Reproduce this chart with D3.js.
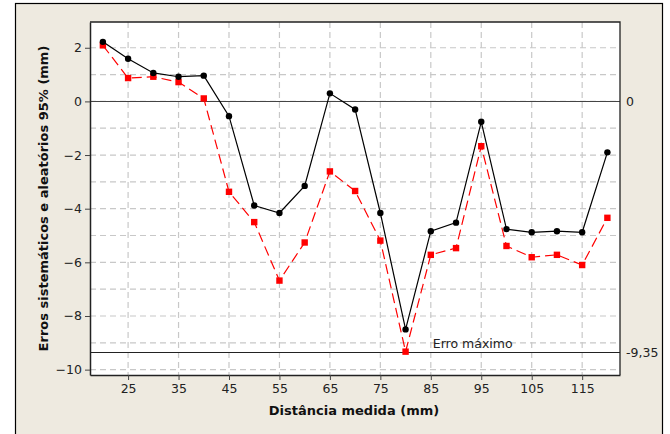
<!DOCTYPE html>
<html>
<head>
<meta charset="utf-8">
<script src="https://cdn.jsdelivr.net/npm/d3@7"></script>
<style>
  body { margin: 0; background: #fff; }
  text { font-family: "DejaVu Sans", Verdana, sans-serif; }
</style>
</head>
<body>
<script>
// distance (mm)
let distances = [20, 25, 30, 35, 40, 45, 50, 55, 60, 65, 70, 75, 80, 85, 90, 95, 100, 105, 110, 115, 120]
// black, solid, circles
let erroA = [2.22, 1.59, 1.06, 0.92, 0.96, -0.55, -3.88, -4.16, -3.15, 0.30, -0.30, -4.16, -8.50, -4.84, -4.52, -0.76, -4.76, -4.88, -4.84, -4.88, -1.90]
// red, dashed, squares
let erroB = [2.09, 0.87, 0.92, 0.72, 0.11, -3.37, -4.50, -6.68, -5.26, -2.61, -3.34, -5.19, -9.33, -5.72, -5.47, -1.67, -5.39, -5.81, -5.72, -6.10, -4.34]
let xTicks = [25, 35, 45, 55, 65, 75, 85, 95, 105, 115]
let yTicks = [2, 0, -2, -4, -6, -8, -10]
let yGrid = [2, 1, 0, -1, -2, -3, -4, -5, -6, -7, -8, -9, -10]
let refLines = [0, -9.35]
let refLabels = ['0', '-9,35']

let w = 670, h = 434
let pLeft = 90, pRight = 620, pTop = 22, pBottom = 375

let svg = d3.select('body').append('svg')
  .attr('width', w)
  .attr('height', h)

// panel
svg.append('rect')
  .attr('x', 15.5).attr('y', 3.5)
  .attr('width', 647).attr('height', 440)
  .attr('fill', '#eeeae0')
  .attr('stroke', '#000')
  .attr('stroke-width', 1.2)

let x = d3.scaleLinear().domain([17.45, 122.5]).range([pLeft, pRight])
let y = d3.scaleLinear().domain([2.96, -10.2]).range([pTop, pBottom])

svg.append('rect')
  .attr('x', pLeft).attr('y', pTop)
  .attr('width', pRight - pLeft).attr('height', pBottom - pTop)
  .attr('fill', '#fff')

// grid
svg.append('g').selectAll('line')
  .data(yGrid)
  .enter()
  .append('line')
  .attr('x1', pLeft).attr('x2', pRight)
  .attr('y1', d => y(d)).attr('y2', d => y(d))
  .attr('stroke', '#c8c8c8')
  .attr('stroke-width', 1.2)
  .attr('stroke-dasharray', '6,4')

svg.append('g').selectAll('line')
  .data(xTicks)
  .enter()
  .append('line')
  .attr('y1', pTop).attr('y2', pBottom)
  .attr('x1', d => x(d)).attr('x2', d => x(d))
  .attr('stroke', '#c8c8c8')
  .attr('stroke-width', 1.2)
  .attr('stroke-dasharray', '6,4')

// reference lines
svg.append('g').selectAll('line')
  .data(refLines)
  .enter()
  .append('line')
  .attr('x1', pLeft).attr('x2', pRight)
  .attr('y1', d => Math.round(y(d)) + 0.5).attr('y2', d => Math.round(y(d)) + 0.5)
  .attr('stroke', (d, i) => i == 0 ? '#444' : '#222')
  .attr('stroke-width', 1.2)

svg.append('g').selectAll('text')
  .data(refLines)
  .enter()
  .append('text')
  .attr('x', 626)
  .attr('y', d => y(d) + 4.5)
  .attr('font-size', 12.5)
  .attr('fill', '#222')
  .text((d, i) => refLabels[i])

svg.append('text')
  .attr('x', x(93.3))
  .attr('y', y(-9.35) - 4)
  .attr('text-anchor', 'middle')
  .attr('font-size', 12.5)
  .attr('fill', '#222')
  .text('Erro máximo')

// axes
let xAxis = svg.append('g')
  .attr('transform', 'translate(0,' + pBottom + ')')
  .call(d3.axisBottom(x).tickValues(xTicks).tickSize(5).tickPadding(4).tickSizeOuter(0))
let yAxis = svg.append('g')
  .attr('transform', 'translate(' + pLeft + ',0)')
  .call(d3.axisLeft(y).tickValues(yTicks).tickSize(5).tickPadding(3).tickSizeOuter(0))

svg.selectAll('.tick text')
  .attr('font-family', '"DejaVu Sans", Verdana, sans-serif')
  .attr('font-size', 12.5)
  .attr('fill', '#222')
svg.selectAll('.domain').attr('stroke', '#222').attr('stroke-width', 1.5)
svg.selectAll('.tick line').attr('stroke', '#444')

// plot border top/right
svg.append('path')
  .attr('d', 'M' + pLeft + ',' + pTop + 'H' + pRight + 'V' + pBottom)
  .attr('fill', 'none')
  .attr('stroke', '#222')
  .attr('stroke-width', 1.3)

// series
let lineA = d3.line().x((d, i) => x(distances[i])).y(d => y(d))

svg.append('path')
  .datum(erroB)
  .attr('d', lineA)
  .attr('fill', 'none')
  .attr('stroke', '#ff0000')
  .attr('stroke-width', 1.2)
  .attr('stroke-dasharray', '10,5')

svg.append('g').selectAll('rect')
  .data(erroB)
  .enter()
  .append('rect')
  .attr('x', (d, i) => x(distances[i]) - 3.2)
  .attr('y', d => y(d) - 3.2)
  .attr('width', 6.4).attr('height', 6.4)
  .attr('fill', '#ff0000')

svg.append('path')
  .datum(erroA)
  .attr('d', lineA)
  .attr('fill', 'none')
  .attr('stroke', '#000')
  .attr('stroke-width', 1.2)

svg.append('g').selectAll('circle')
  .data(erroA)
  .enter()
  .append('circle')
  .attr('cx', (d, i) => x(distances[i]))
  .attr('cy', d => y(d))
  .attr('r', 3.2)
  .attr('fill', '#000')

// axis titles
svg.append('text')
  .attr('x', 354)
  .attr('y', 415)
  .attr('text-anchor', 'middle')
  .attr('font-size', 13)
  .attr('font-weight', 'bold')
  .attr('fill', '#111')
  .text('Distância medida (mm)')

svg.append('text')
  .attr('transform', 'translate(48,' + (pTop + pBottom) / 2 + ') rotate(-90)')
  .attr('text-anchor', 'middle')
  .attr('font-size', 13)
  .attr('font-weight', 'bold')
  .attr('fill', '#111')
  .text('Erros sistemáticos e aleatórios 95% (mm)')
</script>
</body>
</html>
